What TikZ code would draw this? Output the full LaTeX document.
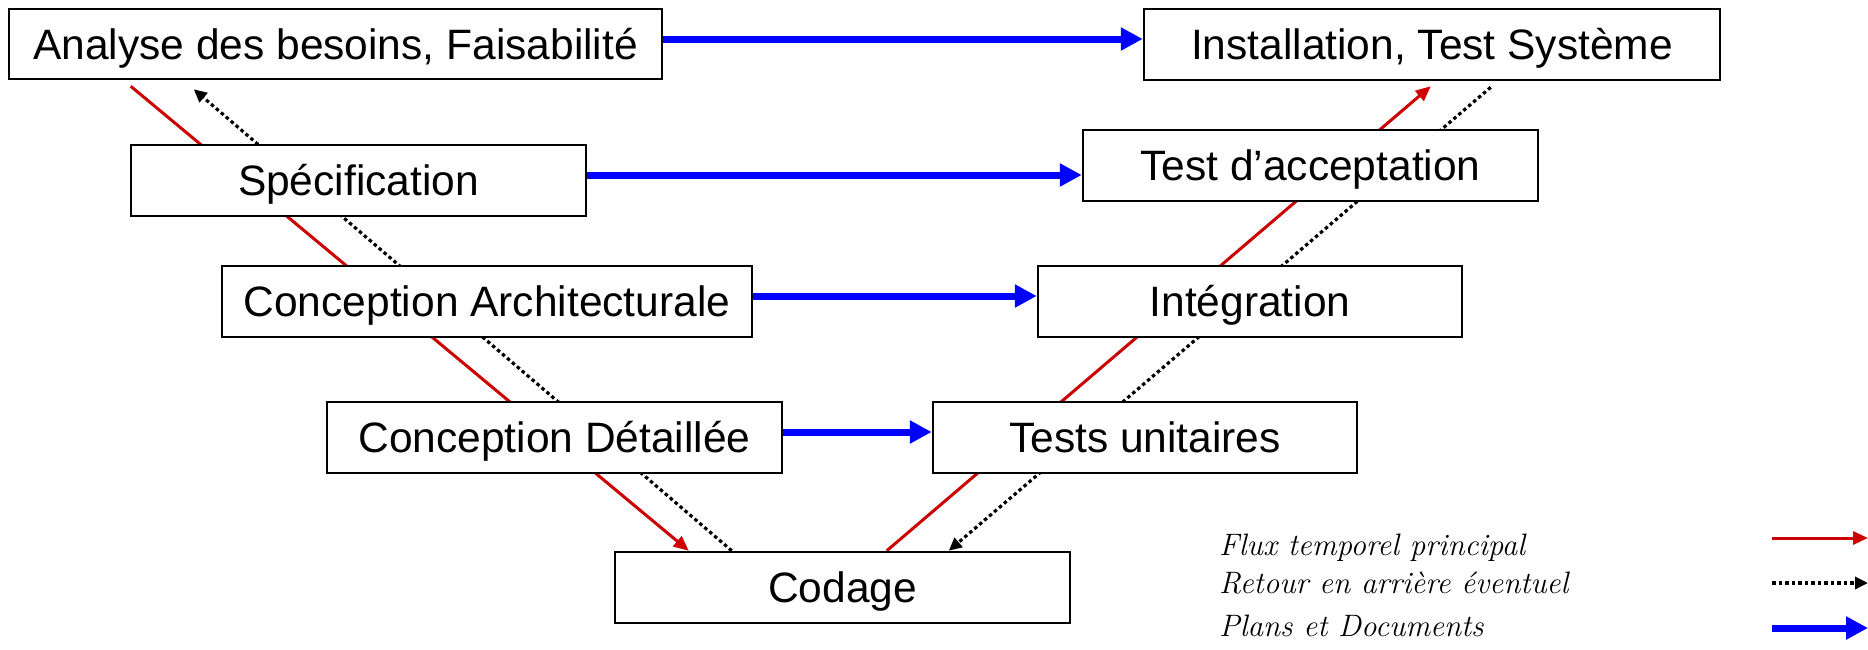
\documentclass[tikz,border=0pt]{standalone}
\usepackage{fontspec}
\newfontfamily\boxfont{Liberation Sans}
\usetikzlibrary{arrows.meta,calc}
\pgfdeclarelayer{background}
\pgfsetlayers{background,main}
\definecolor{flowred}{HTML}{CC0000}
\definecolor{docblue}{HTML}{0000FF}
\newcommand{\legendfont}{\itshape\fontsize{31}{36}\selectfont}
\tikzset{
  phase/.style={draw=black, line width=2.5pt, fill=white, inner sep=0pt,
    font=\boxfont\fontsize{42.5}{50}\selectfont, text height=30pt, text depth=0pt},
  timeflow/.style={draw=flowred, line width=3pt, -{Triangle[length=15pt,width=13pt]}},
  backflow/.style={draw=black, line width=3.2pt, dash pattern=on 3.5pt off 3pt,
    -{Triangle[length=13pt,width=12pt]}},
  docflow/.style={draw=docblue, line width=7pt, -{Triangle[length=22pt,width=22pt]}},
  legendtext/.style={anchor=base west, inner sep=0pt, font=\legendfont}
}
\begin{document}
\begin{tikzpicture}[x=1pt, y=-1pt]
\useasboundingbox (0,0) rectangle (1868,649);

% phases of the V cycle (centre, width, height)
\node[phase, minimum width=653, minimum height=70] (ana)   at (335.5,44)  {Analyse des besoins, Faisabilité};
\node[phase, minimum width=576, minimum height=71] (inst)  at (1432,44.5) {Installation, Test Système};
\node[phase, minimum width=455, minimum height=71] (spec)  at (358.5,180.5) {Spécification};
\node[phase, minimum width=455, minimum height=71] (tda)   at (1310.5,165.5) {Test d’acceptation};
\node[phase, minimum width=530, minimum height=71] (ca)    at (487,301.5) {Conception Architecturale};
\node[phase, minimum width=424, minimum height=71] (integ) at (1250,301.5) {Intégration};
\node[phase, minimum width=455, minimum height=71] (cd)    at (554.5,437.5) {Conception Détaillée};
\node[phase, minimum width=424, minimum height=71] (tu)    at (1145,437.5) {Tests unitaires};
\node[phase, minimum width=455, minimum height=71] (cod)   at (842.5,587.5) {Codage};

% diagonal flows run behind the boxes
\begin{pgfonlayer}{background}
  \draw[timeflow] ([shift={(123,6)}]ana.south west) -- ([xshift=75pt]cod.north west);
  \draw[timeflow] ([xshift=273pt]cod.north west) -- ([shift={(288,5)}]inst.south west);
  \draw[backflow] ([xshift=118pt]cod.north west) -- ([shift={(186,9)}]ana.south west);
  \draw[backflow] ([shift={(348,6)}]inst.south west) -- ([xshift=335pt]cod.north west);
\end{pgfonlayer}

% documents passed across the V
\draw[docflow] (ana.east |- 0,39)  -- (inst.west |- 0,39);
\draw[docflow] (spec.east |- 0,175) -- (tda.west |- 0,175);
\draw[docflow] (ca.east |- 0,296)   -- (integ.west |- 0,296);
\draw[docflow] (cd.east |- 0,432)   -- (tu.west |- 0,432);

% legend
\node[legendtext] (l1) at (1219,555) {Flux temporel principal};
\node[legendtext] (l2) at (1219,593) {Retour en arrière éventuel};
\node[legendtext] (l3) at (1219,636) {Plans et Documents};
\coordinate (r1a) at (1772,538); \coordinate (r1b) at (1868,538);
\coordinate (r2a) at (1772,583); \coordinate (r2b) at (1868,583);
\coordinate (r3a) at (1772,628); \coordinate (r3b) at (1868,628);
\draw[timeflow] (r1a) -- (r1b);
\draw[backflow] (r2a) -- (r2b);
\draw[docflow]  (r3a) -- (r3b);
\end{tikzpicture}
\end{document}
